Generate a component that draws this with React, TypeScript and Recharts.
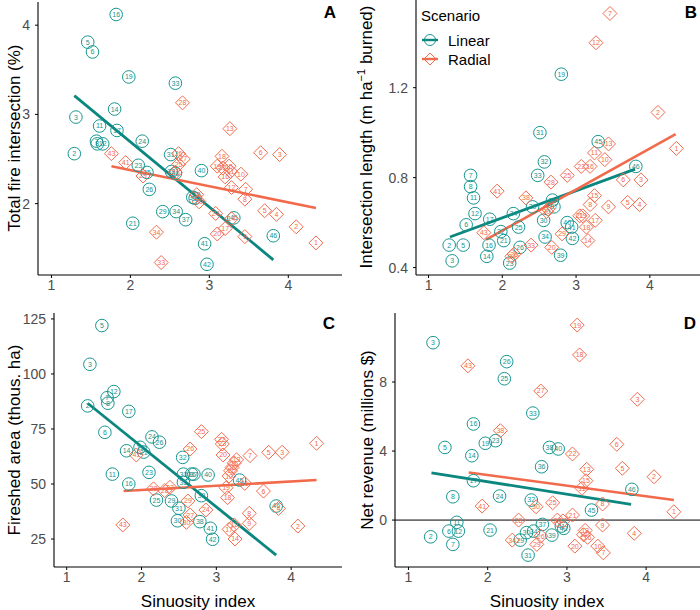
import React from 'react';
import { ScatterChart, Scatter, XAxis, YAxis, ReferenceLine } from 'recharts';

// [scenario id, sinuosity index, value]
const linearFireIntersection: [number, number, number][] = [
  [16,1.82,4.12],[5,1.46,3.81],[6,1.52,3.70],[19,1.98,3.42],[33,2.57,3.35],[14,1.80,3.06],[3,1.31,2.97],
  [11,1.61,2.87],[17,1.83,2.82],[24,2.15,2.70],[7,1.57,2.70],[8,1.58,2.67],[12,1.65,2.67],[2,1.29,2.56],
  [31,2.51,2.55],[23,2.10,2.43],[40,2.90,2.37],[25,2.21,2.35],[32,2.52,2.36],[30,2.57,2.34],[26,2.24,2.16],
  [36,2.79,2.07],[38,2.82,2.06],[29,2.41,1.91],[34,2.58,1.91],[37,2.70,1.82],[21,2.03,1.78],[45,3.31,1.84],
  [46,3.81,1.64],[41,2.94,1.55],[42,2.97,1.32],
];
const radialFireIntersection: [number, number, number][] = [
  [28,2.66,3.13],[13,3.26,2.84],[43,1.76,2.56],[6,3.65,2.57],[3,3.89,2.55],[26,2.61,2.56],[27,2.67,2.50],
  [25,2.61,2.44],[41,1.94,2.46],[18,3.16,2.53],[19,3.10,2.42],[22,3.17,2.40],[15,3.25,2.42],[11,3.27,2.36],
  [16,3.20,2.30],[10,3.40,2.33],[29,2.16,2.31],[21,2.57,2.35],[12,3.28,2.18],[7,3.46,2.16],[8,3.45,2.05],
  [38,2.84,2.10],[30,2.87,2.02],[5,3.70,1.92],[4,3.85,1.88],[24,3.08,1.89],[14,3.28,1.83],[17,3.20,1.72],
  [20,3.10,1.66],[9,3.45,1.63],[2,4.10,1.74],[1,4.35,1.56],[34,2.33,1.68],[33,2.39,1.34],
];
const linearIntersectionLength: [number, number, number][] = [
  [19,2.80,1.26],[31,2.51,1.00],[45,3.30,0.96],[46,3.81,0.85],[32,2.57,0.87],[33,2.48,0.81],[7,1.57,0.81],
  [8,1.57,0.76],[11,1.61,0.71],[12,1.63,0.64],[6,1.51,0.59],[17,1.83,0.615],[24,2.15,0.64],[29,2.41,0.67],
  [36,2.68,0.70],[37,2.70,0.67],[30,2.56,0.61],[25,2.22,0.58],[22,1.98,0.56],[21,2.02,0.52],[16,1.82,0.50],
  [14,1.79,0.45],[2,1.28,0.50],[5,1.47,0.50],[3,1.32,0.43],[23,2.10,0.42],[26,2.24,0.49],[34,2.58,0.536],
  [40,2.88,0.60],[41,2.94,0.58],[42,2.95,0.53],[39,2.79,0.455],
];
const radialIntersectionLength: [number, number, number][] = [
  [7,3.46,1.53],[12,3.27,1.40],[2,4.11,1.09],[13,3.44,0.95],[1,4.36,0.93],[11,3.25,0.91],[10,3.39,0.88],
  [22,3.07,0.85],[16,3.19,0.85],[6,3.64,0.79],[3,3.88,0.79],[25,2.88,0.81],[28,2.66,0.78],[41,1.93,0.74],
  [38,2.32,0.71],[15,3.25,0.72],[5,3.70,0.69],[4,3.86,0.68],[9,3.44,0.67],[8,3.19,0.68],[27,2.62,0.66],
  [30,2.60,0.65],[21,3.05,0.63],[19,3.09,0.63],[17,3.26,0.61],[43,1.75,0.555],[18,3.14,0.58],[29,2.81,0.55],
  [33,2.39,0.50],[14,3.16,0.52],[20,2.67,0.49],[26,2.16,0.46],[24,2.13,0.45],
];
const linearFireshedArea: [number, number, number][] = [
  [5,1.47,122],[3,1.31,104.4],[12,1.63,92],[7,1.54,89.2],[8,1.55,86.7],[2,1.28,85.5],[17,1.83,83],
  [6,1.51,73.5],[24,2.14,71.4],[26,2.24,69],[14,1.80,65.1],[19,1.98,66.7],[21,2.03,64.5],[32,2.55,62.1],
  [11,1.61,54.5],[23,2.10,55.3],[33,2.56,54.5],[36,2.67,54.5],[37,2.70,54.5],[40,2.89,54.1],[16,1.83,50],
  [35,2.56,50.8],[45,3.31,51.8],[25,2.20,42.7],[29,2.40,42.3],[39,2.80,44.7],[31,2.50,39],[46,3.80,40],
  [30,2.48,33.3],[38,2.78,32.9],[41,2.92,29.9],[42,2.95,24.9],
];
const radialFireshedArea: [number, number, number][] = [
  [25,2.80,73.8],[1,4.34,68.5],[22,3.07,70.3],[23,3.08,68.2],[20,3.09,63.2],[26,2.65,65.9],[5,3.70,64.4],
  [3,3.88,64.4],[7,3.45,62.9],[41,1.93,63.2],[13,3.27,61],[15,3.24,59.5],[16,3.21,57.5],[11,3.19,56],
  [10,3.17,53.6],[21,3.38,50.3],[19,3.13,48.3],[6,3.63,46.8],[18,3.15,43.8],[38,2.16,47.8],[28,2.31,47],
  [33,2.38,48.5],[29,2.62,42.3],[24,2.86,38.2],[27,2.65,35.9],[30,2.60,32.6],[8,3.44,36.7],[9,3.44,32.1],
  [4,3.83,38.9],[43,1.75,31.4],[2,4.09,30.9],[17,3.17,29.4],[12,3.24,31.4],[14,3.25,25],
];
const linearNetRevenue: [number, number, number][] = [
  [3,1.31,10.28],[26,2.24,9.18],[25,2.21,8.19],[33,2.57,6.20],[16,1.82,5.57],[23,2.10,4.60],[19,1.97,4.45],
  [5,1.46,4.21],[38,2.78,4.21],[40,2.89,4.12],[14,1.80,3.73],[36,2.68,3.09],[17,1.82,2.28],[46,3.82,1.78],
  [8,1.56,1.35],[24,2.15,1.39],[32,2.55,1.16],[45,3.31,0.58],[11,1.61,-0.13],[37,2.69,-0.25],[6,1.51,-0.64],
  [12,1.63,-0.64],[21,2.03,-0.58],[34,2.58,-0.64],[30,2.49,-0.73],[39,2.81,-0.87],[41,2.93,-0.35],
  [42,2.96,-0.48],[2,1.28,-0.97],[7,1.56,-1.41],[29,2.41,-1.16],[31,2.51,-2.03],
];
const radialNetRevenue: [number, number, number][] = [
  [19,3.13,11.3],[18,3.16,9.57],[43,1.75,8.94],[27,2.67,7.48],[3,3.89,7.0],[38,2.16,5.18],[6,3.63,4.39],
  [22,3.07,3.83],[13,3.25,2.94],[5,3.70,3.0],[2,4.10,2.51],[15,3.24,2.28],[11,3.19,1.84],[8,3.45,0.93],
  [25,2.82,1.0],[30,2.61,0.77],[41,1.93,0.81],[21,3.07,0.29],[1,4.35,0.48],[28,2.39,0.0],[24,2.88,0.0],
  [17,2.95,-0.05],[9,3.45,-0.29],[4,3.85,-0.77],[12,3.23,-0.6],[16,3.26,-1.0],[14,3.21,-0.85],[34,2.31,-1.16],
  [26,2.67,-0.93],[29,2.62,-1.41],[20,3.10,-1.51],[10,3.39,-1.51],[7,3.46,-1.9],
];

// regression fits: [x1, y1, x2, y2]
const fitFireIntersection = { linear: [1.29, 3.21, 3.81, 1.37], radial: [1.76, 2.42, 4.35, 1.95] };
const fitIntersectionLength = { linear: [1.29, 0.536, 3.80, 0.838], radial: [1.78, 0.524, 4.35, 0.994] };
const fitFireshedArea = { linear: [1.28, 86.7, 3.80, 17.7], radial: [1.76, 46.8, 4.34, 51.8] };
const fitNetRevenue = { linear: [1.29, 2.74, 3.81, 0.91], radial: [1.76, 2.76, 4.35, 1.16] };

const xTicks = [1, 2, 3, 4];
const xDomain: [number, number] = [0.83, 4.68];

const FONT = '"Liberation Sans", Arial, Helvetica, sans-serif';
const TEAL = '#16968f';
const TEAL_LINE = '#0b877f';
const ORANGE = '#f26b4d';
const ORANGE_LINE = '#f26a4c';

const toPts = (arr: [number, number, number][]) => arr.map(([id, x, y]) => ({ id, x, y }));

const CircleMark = (props: any) => {
  const { cx, cy, payload } = props;
  if (cx == null || cy == null) return <g />;
  return (
    <g>
      <circle cx={cx} cy={cy} r={6.3} fill="none" stroke={TEAL} strokeWidth={1} />
      <text x={cx} y={cy} dy="0.35em" textAnchor="middle" fontSize={7} fill={TEAL} fontFamily={FONT}>
        {payload.id}
      </text>
    </g>
  );
};

const DiamondMark = (props: any) => {
  const { cx, cy, payload } = props;
  if (cx == null || cy == null) return <g />;
  const s = 7;
  return (
    <g>
      <path d={`M${cx},${cy - s}L${cx + s},${cy}L${cx},${cy + s}L${cx - s},${cy}Z`} fill="none" stroke={ORANGE} strokeWidth={1} />
      <text x={cx} y={cy} dy="0.35em" textAnchor="middle" fontSize={7} fill={ORANGE} fontFamily={FONT}>
        {payload.id}
      </text>
    </g>
  );
};

type PanelProps = {
  left: number; top: number; width: number; height: number;
  margin: { top: number; right: number; bottom: number; left: number };
  yWidth: number; xHeight: number;
  yDomain: [number, number]; yTicks: number[];
  linear: [number, number, number][]; radial: [number, number, number][];
  fit: { linear: number[]; radial: number[] };
  zeroLine?: boolean;
};

const tickStyle = { fill: '#4d4d4d', fontSize: 14, fontFamily: FONT };

const Panel = (p: PanelProps) => (
  <div style={{ position: 'absolute', left: p.left, top: p.top }}>
    <ScatterChart width={p.width} height={p.height} margin={p.margin}>
      <XAxis
        type="number" dataKey="x" domain={xDomain} ticks={xTicks} allowDataOverflow
        height={p.xHeight} tick={tickStyle} tickSize={3} tickMargin={2}
        axisLine={{ stroke: '#000', strokeWidth: 1.1 }} tickLine={{ stroke: '#000' }}
      />
      <YAxis
        type="number" dataKey="y" domain={p.yDomain} ticks={p.yTicks} allowDataOverflow
        width={p.yWidth} tick={tickStyle} tickSize={3} tickMargin={5}
        axisLine={{ stroke: '#000', strokeWidth: 1.1 }} tickLine={{ stroke: '#000' }}
      />
      {p.zeroLine && <ReferenceLine y={0} stroke="#000" strokeWidth={1} />}
      <Scatter data={toPts(p.linear)} shape={CircleMark} isAnimationActive={false} />
      <Scatter data={toPts(p.radial)} shape={DiamondMark} isAnimationActive={false} />
      <ReferenceLine
        segment={[{ x: p.fit.linear[0], y: p.fit.linear[1] }, { x: p.fit.linear[2], y: p.fit.linear[3] }]}
        stroke={TEAL_LINE} strokeWidth={2.8} ifOverflow="visible"
      />
      <ReferenceLine
        segment={[{ x: p.fit.radial[0], y: p.fit.radial[1] }, { x: p.fit.radial[2], y: p.fit.radial[3] }]}
        stroke={ORANGE_LINE} strokeWidth={2.6} ifOverflow="visible"
      />
    </ScatterChart>
  </div>
);

const Txt = ({ x, y, children, rotate, size = 17, bold, anchor = 'center' }: any) => (
  <div
    style={{
      position: 'absolute', left: x, top: y, whiteSpace: 'nowrap', fontFamily: FONT,
      fontSize: size, fontWeight: bold ? 700 : 400, color: '#000', lineHeight: 1,
      transform: `translate(${anchor === 'center' ? '-50%' : '0'}, -50%)${rotate ? ' rotate(-90deg)' : ''}`,
      transformOrigin: anchor === 'center' ? 'center center' : 'left center',
    }}
  >
    {children}
  </div>
);

const LegendGlyph = ({ kind }: { kind: 'circle' | 'diamond' }) => (
  <svg width={18} height={16} style={{ display: 'block' }}>
    {kind === 'circle' ? (
      <>
        <circle cx={9} cy={8} r={5.5} fill="none" stroke={TEAL} strokeWidth={1} />
        <line x1={1} y1={8} x2={17} y2={8} stroke={TEAL_LINE} strokeWidth={2.4} />
      </>
    ) : (
      <>
        <path d="M9,2L15,8L9,14L3,8Z" fill="none" stroke={ORANGE} strokeWidth={1} />
        <line x1={1} y1={8} x2={17} y2={8} stroke={ORANGE_LINE} strokeWidth={2.4} />
      </>
    )}
  </svg>
);

export default function App() {
  return (
    <div style={{ position: 'absolute', left: 0, top: 0, width: 700, height: 610, background: '#fff', overflow: 'hidden' }}>
      <Panel
        left={0} top={0} width={350} height={300}
        margin={{ top: 2, right: 8, bottom: 0, left: 0 }} yWidth={38} xHeight={25}
        yDomain={[1.2, 4.26]} yTicks={[2, 3, 4]}
        linear={linearFireIntersection} radial={radialFireIntersection} fit={fitFireIntersection}
      />
      <Panel
        left={350} top={0} width={350} height={300}
        margin={{ top: 0, right: 0, bottom: 0, left: 0 }} yWidth={66} xHeight={25}
        yDomain={[0.367, 1.59]} yTicks={[0.4, 0.8, 1.2]}
        linear={linearIntersectionLength} radial={radialIntersectionLength} fit={fitIntersectionLength}
      />
      <Panel
        left={0} top={300} width={350} height={310}
        margin={{ top: 13, right: 8, bottom: 0, left: 0 }} yWidth={54} xHeight={43}
        yDomain={[12.3, 127.7]} yTicks={[25, 50, 75, 100, 125]}
        linear={linearFireshedArea} radial={radialFireshedArea} fit={fitFireshedArea}
      />
      <Panel
        left={350} top={300} width={350} height={310}
        margin={{ top: 13, right: 0, bottom: 0, left: 0 }} yWidth={45} xHeight={43}
        yDomain={[-2.72, 12.0]} yTicks={[0, 4, 8]}
        linear={linearNetRevenue} radial={radialNetRevenue} fit={fitNetRevenue} zeroLine
      />

      <Txt x={14} y={138} rotate>Total fire intersection (%)</Txt>
      <Txt x={366} y={137} rotate>
        Intersection length (m ha<sup style={{ fontSize: 11, verticalAlign: 'super', lineHeight: 0 }}>−1</sup> burned)
      </Txt>
      <Txt x={14} y={440} rotate>Fireshed area (thous. ha)</Txt>
      <Txt x={367} y={440} rotate>Net revenue (millions $)</Txt>
      <Txt x={198} y={601}>Sinuosity index</Txt>
      <Txt x={547} y={601}>Sinuosity index</Txt>

      <Txt x={330} y={12} bold>A</Txt>
      <Txt x={691} y={12} bold>B</Txt>
      <Txt x={329} y={323} bold>C</Txt>
      <Txt x={690} y={323} bold>D</Txt>

      <Txt x={421} y={15} size={15} anchor="left">Scenario</Txt>
      <div style={{ position: 'absolute', left: 421, top: 32 }}><LegendGlyph kind="circle" /></div>
      <Txt x={448} y={40} size={15} anchor="left">Linear</Txt>
      <div style={{ position: 'absolute', left: 421, top: 51 }}><LegendGlyph kind="diamond" /></div>
      <Txt x={448} y={59} size={15} anchor="left">Radial</Txt>
    </div>
  );
}
